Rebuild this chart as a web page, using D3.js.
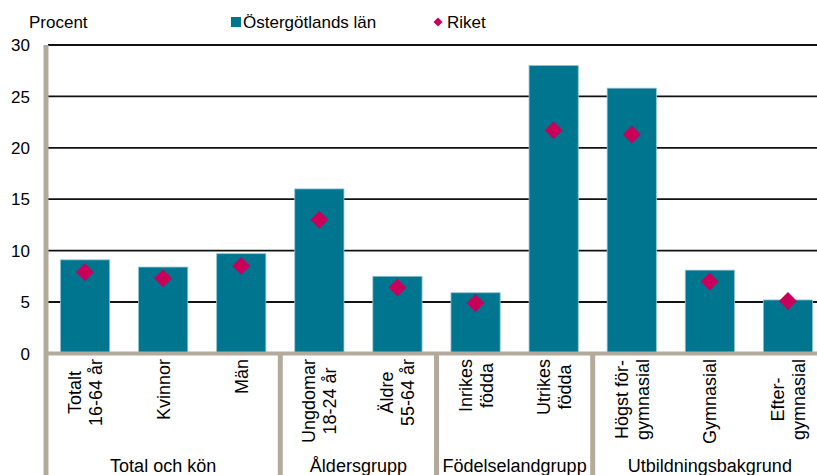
<!DOCTYPE html>
<html><head><meta charset="utf-8">
<script src="https://cdn.jsdelivr.net/npm/d3@7"></script>
<style>
body{margin:0;background:#fff;}
text{font-family:Arial,"Liberation Sans",sans-serif;fill:#000;}
</style></head>
<body><svg id="c" width="817" height="475"></svg>
<script>
const categories = [
  ["Totalt","16-64 år"],["Kvinnor"],["Män"],
  ["Ungdomar","18-24 år"],["Äldre","55-64 år"],
  ["Inrikes","födda"],["Utrikes","födda"],
  ["Högst för-","gymnasial"],["Gymnasial"],["Efter-","gymnasial"]
];
const lanValues   = [9.1, 8.4, 9.7, 16.0, 7.5, 5.9, 28.0, 25.8, 8.1, 5.2];
const riketValues = [7.9, 7.3, 8.5, 13.0, 6.4, 4.9, 21.7, 21.3, 7.0, 5.1];
const groups = [
  {name:"Total och kön", from:0, to:2},
  {name:"Åldersgrupp", from:3, to:4},
  {name:"Födelselandgrupp", from:5, to:6},
  {name:"Utbildningsbakgrund", from:7, to:9}
];
const yTicks = [0,5,10,15,20,25,30];
const seriesNames = ["Östergötlands län","Riket"];

const barColor = "#00758f", diaColor = "#c8005a", tan = "#b4aa9c";
const svg = d3.select("#c");
const W = 817, H = 475;
const idx = d3.range(categories.length);
const x = d3.scaleBand().domain(idx).range([46, 827]).paddingInner(0.37).paddingOuter(0.185);
const y = d3.scaleLinear().domain([0,30]).range([353.4, 45]);

// gridlines
svg.append("g").selectAll("line").data(yTicks.filter(d=>d>0)).join("line")
  .attr("x1", 48).attr("x2", W).attr("y1", d=>y(d)).attr("y2", d=>y(d))
  .attr("stroke", "#111").attr("stroke-width", 1.8);

// y labels
svg.append("g").selectAll("text").data(yTicks).join("text")
  .attr("x", 30).attr("y", d=>y(d)).attr("dy", "0.36em")
  .attr("text-anchor","end").attr("font-size", 17).text(d=>d);

// bars
svg.append("g").selectAll("rect").data(lanValues).join("rect")
  .attr("x", (d,i)=>x(i)).attr("width", x.bandwidth())
  .attr("y", d=>y(d)).attr("height", d=>y(0)-y(d))
  .attr("fill", barColor).attr("stroke","#8fc3d3").attr("stroke-width",0.8);

// diamonds
const diamond = d3.symbol().type(d3.symbolSquare).size(160);
svg.append("g").selectAll("path").data(riketValues).join("path")
  .attr("d", diamond)
  .attr("transform", (d,i)=>`translate(${x(i)+x.bandwidth()/2},${y(d)}) rotate(45)`)
  .attr("fill", diaColor);

// axes (tan)
svg.append("line").attr("x1",46).attr("x2",W).attr("y1",y(0)).attr("y2",y(0))
  .attr("stroke",tan).attr("stroke-width",4);
svg.append("line").attr("x1",46).attr("x2",46).attr("y1",y(30)).attr("y2",H)
  .attr("stroke",tan).attr("stroke-width",5);
// group separators
const step = x.step();
const bandStart = i => x(i) - x.paddingInner()*step/2;
const bandEnd = i => bandStart(i) + step;
svg.append("g").selectAll("line").data(groups.slice(1)).join("line")
  .attr("x1", g=>bandStart(g.from)).attr("x2", g=>bandStart(g.from))
  .attr("y1", y(0)).attr("y2", H).attr("stroke",tan).attr("stroke-width",5);

// category labels (rotated)
const catG = svg.append("g");
categories.forEach((lines,i)=>{
  const cx = x(i)+x.bandwidth()/2;
  const g = catG.append("g").attr("transform",`translate(${cx},0) rotate(-90)`);
  const n = lines.length;
  const lh = 21;
  const ts = lines.map((t,j)=>g.append("text").attr("font-size",18)
     .attr("text-anchor","middle")
     .attr("y", (j-(n-1)/2)*lh + 6.5).text(t));
  const wmax = d3.max(ts, t=>t.node().getComputedTextLength());
  ts.forEach(t=>t.attr("x", -(359 + wmax/2)));
});

// group labels
svg.append("g").selectAll("text").data(groups).join("text")
  .attr("x", g=>(bandStart(g.from)+bandEnd(g.to))/2)
  .attr("y", 472).attr("text-anchor","middle").attr("font-size",18)
  .text(g=>g.name);

// title + legend
svg.append("text").attr("x",29).attr("y",28).attr("font-size",17).text("Procent");
const leg = svg.append("g");
leg.append("rect").attr("x",231).attr("y",17).attr("width",10).attr("height",10).attr("fill",barColor);
leg.append("text").attr("x",243).attr("y",28).attr("font-size",17).text(seriesNames[0]);
leg.append("path").attr("d", d3.symbol().type(d3.symbolSquare).size(40))
  .attr("transform","translate(438,22) rotate(45)").attr("fill",diaColor);
leg.append("text").attr("x",447).attr("y",28).attr("font-size",17).text(seriesNames[1]);
</script></body></html>
